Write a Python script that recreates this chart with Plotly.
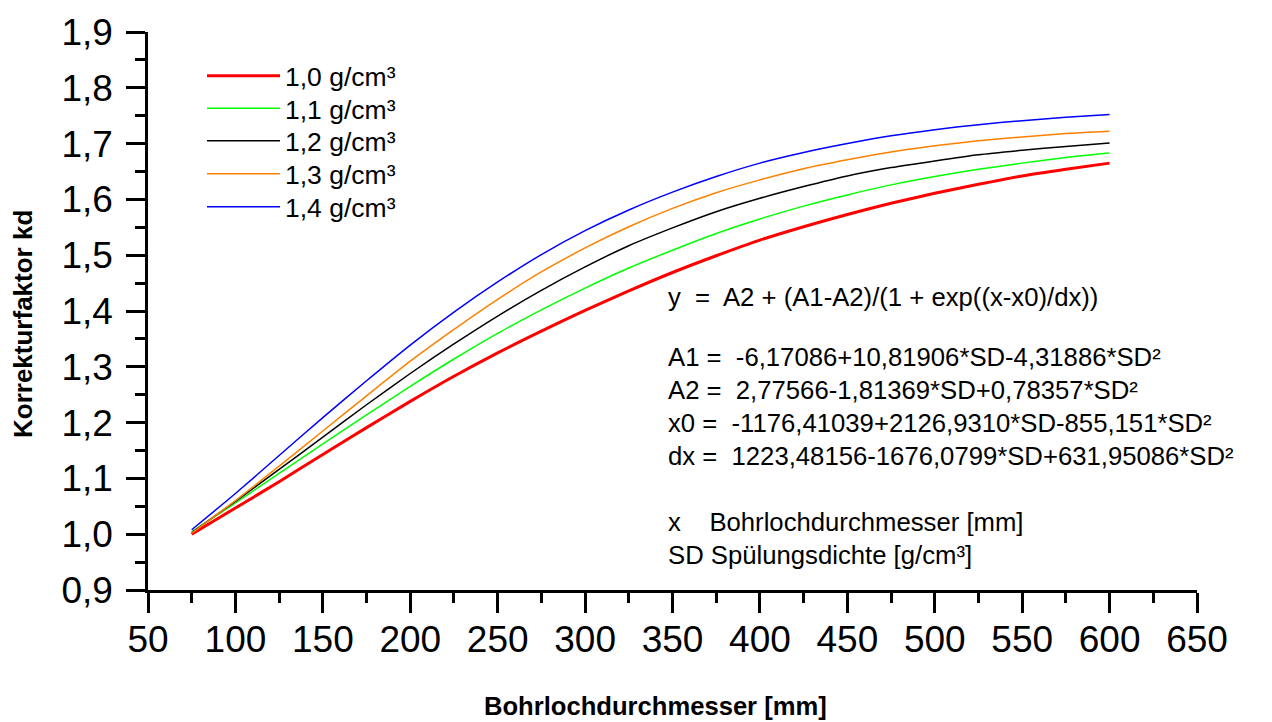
import plotly.graph_objects as go

# Borehole diameter [mm]
diameter_mm = [75, 100, 125, 150, 175, 200, 225, 250, 275, 300, 325, 350,
               375, 400, 425, 450, 475, 500, 525, 550, 575, 600]

# Correction factor kd, per mud density
kd_1_0 = [1.000, 1.047, 1.094, 1.143, 1.191, 1.238, 1.283, 1.325, 1.364, 1.401, 1.436,
          1.469, 1.499, 1.527, 1.551, 1.573, 1.593, 1.611, 1.627, 1.642, 1.654, 1.665]
kd_1_1 = [1.004, 1.056, 1.109, 1.162, 1.214, 1.265, 1.314, 1.360, 1.402, 1.441, 1.477,
          1.509, 1.539, 1.565, 1.588, 1.608, 1.626, 1.641, 1.654, 1.665, 1.675, 1.683]
kd_1_2 = [1.003, 1.059, 1.116, 1.174, 1.232, 1.288, 1.341, 1.391, 1.437, 1.479, 1.517,
          1.549, 1.578, 1.602, 1.623, 1.642, 1.657, 1.669, 1.680, 1.688, 1.695, 1.701]
kd_1_3 = [1.002, 1.060, 1.122, 1.185, 1.248, 1.310, 1.367, 1.421, 1.470, 1.513, 1.551,
          1.584, 1.612, 1.635, 1.655, 1.671, 1.685, 1.696, 1.705, 1.712, 1.718, 1.722]
kd_1_4 = [1.008, 1.073, 1.141, 1.209, 1.275, 1.339, 1.398, 1.452, 1.501, 1.544, 1.581,
          1.613, 1.641, 1.665, 1.684, 1.700, 1.714, 1.725, 1.734, 1.741, 1.747, 1.752]

series_names = ["1,0 g/cm³", "1,1 g/cm³", "1,2 g/cm³", "1,3 g/cm³", "1,4 g/cm³"]
series_values = [kd_1_0, kd_1_1, kd_1_2, kd_1_3, kd_1_4]
series_colors = ["#FF0000", "#00FF00", "#000000", "#FF8000", "#0000FF"]
series_widths = [3, 1.5, 1.5, 1.5, 1.5]
legend_ids = ["legend", "legend2", "legend3", "legend4", "legend5"]
legend_rows_px = [76, 108.5, 141, 174, 207]

formula_lines = [
    ("y  =  A2 + (A1-A2)/(1 + exp((x-x0)/dx))", 297),
    ("A1 =  -6,17086+10,81906*SD-4,31886*SD²", 357),
    ("A2 =  2,77566-1,81369*SD+0,78357*SD²", 390),
    ("x0 =  -1176,41039+2126,9310*SD-855,151*SD²", 423),
    ("dx =  1223,48156-1676,0799*SD+631,95086*SD²", 456),
    ("x    Bohrlochdurchmesser [mm]", 522),
    ("SD Spülungsdichte [g/cm³]", 555),
]

FONT = "Liberation Sans, Arial, Helvetica, sans-serif"

L, R, T, B = 148, 75, 32, 132
W, H = 1272, 722
pw, ph = W - L - R, H - T - B

def px_to_paper_y(py):
    return (H - B - py) / ph

def px_to_paper_x(px):
    return (px - L) / pw

fig = go.Figure()
for name, vals, col, w, lg in zip(series_names, series_values, series_colors,
                                  series_widths, legend_ids):
    fig.add_trace(go.Scatter(x=diameter_mm, y=vals, mode="lines", name=name, legend=lg,
                             line=dict(color=col, width=w, shape="spline", smoothing=0.6)))

legend_layouts = {}
for lg, py in zip(legend_ids, legend_rows_px):
    legend_layouts[lg] = dict(x=px_to_paper_x(202), y=px_to_paper_y(py),
                              xanchor="left", yanchor="middle",
                              bgcolor="rgba(0,0,0,0)", borderwidth=0, itemwidth=73,
                              font=dict(family=FONT, size=26.5, color="black"))

annotations = []
for txt, py in formula_lines:
    annotations.append(dict(text=txt, xref="paper", yref="paper",
                            x=px_to_paper_x(666), y=px_to_paper_y(py),
                            xanchor="left", yanchor="middle", showarrow=False,
                            font=dict(family=FONT, size=25.7, color="black")))
annotations.append(dict(text="<b>Bohrlochdurchmesser [mm]</b>", xref="paper", yref="paper",
                        x=px_to_paper_x(655), y=px_to_paper_y(706),
                        xanchor="center", yanchor="middle", showarrow=False,
                        font=dict(family=FONT, size=25.6, color="black")))
annotations.append(dict(text="<b>Korrekturfaktor kd</b>", xref="paper", yref="paper",
                        x=px_to_paper_x(23), y=px_to_paper_y(324), textangle=-90,
                        xanchor="center", yanchor="middle", showarrow=False,
                        font=dict(family=FONT, size=26, color="black")))

fig.update_layout(
    width=W, height=H,
    margin=dict(l=L, r=R, t=T, b=B),
    paper_bgcolor="white", plot_bgcolor="white",
    separators=",.",
    font=dict(family=FONT, color="black"),
    showlegend=True,
    annotations=annotations,
    **legend_layouts,
)

fig.update_xaxes(range=[50, 650], dtick=50, tick0=50, tickformat="d",
                 showline=True, linecolor="black", linewidth=2.5,
                 ticks="outside", ticklen=20, tickwidth=2.5, tickcolor="black",
                 showgrid=False, zeroline=False, ticklabelstandoff=-5,
                 tickfont=dict(family=FONT, size=37, color="black"),
                 minor=dict(dtick=25, ticks="outside", ticklen=10, tickwidth=2.5,
                            tickcolor="black", showgrid=False))
fig.update_yaxes(range=[0.9, 1.9], dtick=0.1, tick0=0.9, tickformat=".1f",
                 showline=True, linecolor="black", linewidth=2.5,
                 ticks="outside", ticklen=19, tickwidth=2.5, tickcolor="black",
                 showgrid=False, zeroline=False, ticklabelstandoff=6,
                 tickfont=dict(family=FONT, size=37, color="black"),
                 minor=dict(dtick=0.05, ticks="outside", ticklen=10, tickwidth=2.5,
                            tickcolor="black", showgrid=False))

fig.write_html("out.html", config={"displayModeBar": False},
               post_script="document.body.style.margin='0';document.body.style.padding='0';")
